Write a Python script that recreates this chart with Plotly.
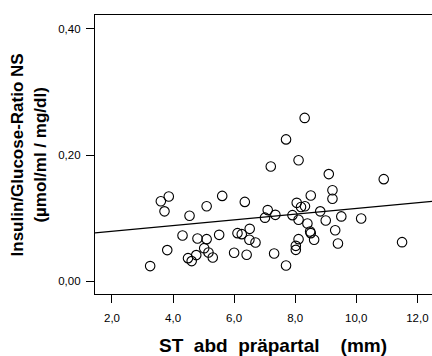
import plotly.graph_objects as go

# ST abd präpartal (mm)
st_abd = [8.31, 7.70, 8.11, 7.20, 9.10, 10.90, 9.22, 9.22, 8.51, 3.86,
          3.60, 3.72, 5.61, 6.35, 5.10, 4.54, 8.05, 8.19, 8.32, 7.10,
          7.35, 7.01, 7.91, 8.11, 8.82, 9.00, 9.51, 10.16, 8.40, 9.31,
          8.49, 8.51, 8.62, 9.40, 8.11, 8.02, 8.02, 7.70, 7.31, 11.50,
          6.51, 6.50, 6.70, 6.11, 6.25, 5.51, 4.31, 4.80, 5.10, 5.02,
          5.16, 5.30, 4.76, 4.49, 4.61, 3.81, 3.25, 6.00, 6.41]
# Insulin/Glucose-Ratio NS
ratio = [0.259, 0.225, 0.192, 0.182, 0.170, 0.162, 0.1445, 0.131, 0.136, 0.1345,
         0.127, 0.111, 0.1355, 0.126, 0.119, 0.104, 0.1245, 0.118, 0.119, 0.113,
         0.1055, 0.101, 0.105, 0.0976, 0.111, 0.0965, 0.103, 0.0997, 0.0918, 0.081,
         0.079, 0.0765, 0.066, 0.060, 0.067, 0.0564, 0.050, 0.0253, 0.0443, 0.0622,
         0.0833, 0.066, 0.0617, 0.0765, 0.0749, 0.0738, 0.0728, 0.068, 0.067, 0.0527,
         0.0459, 0.038, 0.0417, 0.0369, 0.0322, 0.0496, 0.0243, 0.0454, 0.0422]

# regression line
fit_intercept = 0.0704
fit_slope = 0.00453

x_range = [1.444, 12.48]
y_range = [-0.0199, 0.422]

x_tickvals = [2, 4, 6, 8, 10, 12]
x_ticktext = ["2,0", "4,0", "6,0", "8,0", "10,0", "12,0"]
y_tickvals = [0.0, 0.2, 0.4]
y_ticktext = ["0,00", "0,20", "0,40"]

x_title = "ST\u00a0\u00a0abd\u00a0\u00a0präpartal\u00a0\u00a0\u00a0\u00a0(mm)"
y_title = "Insulin/Glucose-Ratio NS<br>(µmol/ml / mg/dl)"

font_family = "Liberation Sans, Arial, sans-serif"

fig = go.Figure()
fig.add_trace(go.Scatter(
    x=x_range,
    y=[fit_intercept + fit_slope * v for v in x_range],
    mode="lines",
    line=dict(color="black", width=1.2),
    hoverinfo="skip",
    showlegend=False,
))
fig.add_trace(go.Scatter(
    x=st_abd, y=ratio, mode="markers",
    marker=dict(symbol="circle-open", size=9.5, color="black",
                line=dict(width=1.1, color="black")),
    showlegend=False,
))

axis_common = dict(
    showgrid=False, zeroline=False, showline=True, linecolor="black",
    linewidth=1.3, ticks="outside", tickcolor="black", tickwidth=1.3,
    ticklen=8, tickfont=dict(family=font_family, size=11.5, color="black"),
)

fig.update_layout(
    width=432, height=356,
    margin=dict(l=95, r=0, t=15, b=62),
    paper_bgcolor="white", plot_bgcolor="white",
    xaxis=dict(range=x_range, tickvals=x_tickvals, ticktext=x_ticktext,
               mirror=True, ticklabelstandoff=5, **axis_common),
    yaxis=dict(range=y_range, tickvals=y_tickvals, ticktext=y_ticktext,
               ticklabelstandoff=3, **axis_common),
    annotations=[
        dict(text=x_title, xref="paper", yref="paper", x=0.527, y=-0.183,
             xanchor="center", yanchor="middle", showarrow=False,
             font=dict(family=font_family, size=19, color="black", weight="bold")),
        dict(text=y_title, xref="paper", yref="paper", x=-0.196, y=0.5,
             xanchor="center", yanchor="middle", showarrow=False, textangle=-90,
             font=dict(family=font_family, size=17, color="black", weight="bold")),
    ],
)

fig.write_html(
    "out.html",
    config={"displayModeBar": False},
    post_script="document.body.style.margin='0';document.body.style.overflow='hidden';",
)
